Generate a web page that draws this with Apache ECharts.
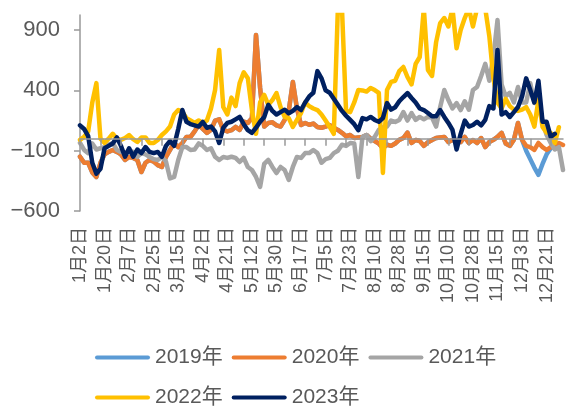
<!DOCTYPE html>
<html>
<head>
<meta charset="utf-8">
<script src="https://cdn.jsdelivr.net/npm/echarts@6/dist/echarts.min.js"></script>
<style>
html, body { margin: 0; padding: 0; background: #fff; }
#chart { width: 567px; height: 407px; }
</style>
</head>
<body>
<div id="chart"></div>
<script>
// 横轴标签（每18个交易日一个）
const dateLabels = ['1月2日', '1月20日', '2月7日', '2月25日', '3月15日', '4月2日', '4月21日',
    '5月12日', '5月30日', '6月17日', '7月5日', '7月23日', '8月10日', '8月28日', '9月15日',
    '10月10日', '10月28日', '11月15日', '12月3日', '12月21日'];
const labelStep = 18;   // 标签间隔（天）
const tickStep = 15;    // 刻度间隔（天）
const dayStep = 3;      // 取点间隔（天）
const lastDay = 354;

const yTicks = [-600, -100, 400, 900];

// 各年份数据（每3天取一点）
const y2019 = [
    -150, -200, -200, -280, -318, -200, -130, -110, -94, -110,
    -130, -177, -152, -160, -177, -277, -200, -177, -190, -220,
    -235, -152, -94, -36, -70, -36, 14, 14, 60, 113,
    80, 48, 72, 150, 160, 72, 60, 70, 97, 72,
    140, 130, 170, 860, 420, 100, 130, 135, 110, 100,
    155, 230, 470, 250, 113, 130, 115, 125, 97, 90,
    100, 113, 90, 72, 48, 20, 30, 5, 10, 14,
    30, 0, -20, -40, -80, -50, -60, -40, -10, 5,
    50, -36, -11, -20, -60, -30, -11, 5, 10, 14,
    -28, -11, -20, -28, 14, -36, -11, -36, 5, -70,
    -28, -10, 14, 48, -40, -60, -10, 130, -10, -100,
    -170, -240, -300, -210, -130, -80, -60, null, null
];
const y2020 = [
    -150, -200, -200, -280, -318, -200, -130, -110, -94, -110,
    -130, -177, -152, -160, -177, -277, -200, -177, -190, -220,
    -235, -152, -94, -36, -70, -36, 14, 14, 60, 113,
    80, 48, 72, 150, 160, 72, 60, 70, 97, 72,
    140, 130, 170, 860, 420, 100, 130, 135, 110, 100,
    155, 230, 470, 250, 113, 130, 115, 125, 97, 90,
    100, 113, 90, 72, 48, 20, 30, 5, 10, 14,
    30, 0, -20, -40, -80, -50, -60, -40, -10, 5,
    50, -36, -11, -20, -60, -30, -11, 5, 10, 14,
    -28, -11, -20, -28, 14, -36, -11, -36, 5, -70,
    -28, -10, 14, 48, -40, -60, -10, 130, -10, -60,
    -70, -94, -36, -70, -94, -70, -55, -36, -53
];
const y2021 = [
    -36, -94, -120, -40, -90, -80, -70, -50, -36, -94,
    -110, -120, -100, -110, -152, -120, -130, -152, -170, -177,
    -152, -190, -330, -318, -177, -70, -70, -94, -90, -40,
    -60, -94, -80, -150, -177, -152, -160, -150, -160, -194,
    -160, -235, -260, -318, -400, -210, -177, -235, -285, -235,
    -260, -343, -235, -152, -160, -120, -120, -94, -120, -200,
    -170, -160, -120, -100, -50, -60, -36, -40, -318, 14,
    30, -20, 14, 72, 95, 100, 150, 138, 155, 220,
    150, 212, 155, 180, 160, 180, 175, 100, 262, 403,
    320, 250, 295, 237, 310, 240, 403, 428, 520, 620,
    480, 677, 983, 450, 350, 380, 300, 428, 300, 300,
    460, 295, 350, 140, 30, -36, -90, -70, -260
];
const y2022 = [
    -10, 14, 60, 300, 460, 0, -36, 0, 40, 0,
    -10, 5, 30, -5, -28, 10, 10, -36, -36, -11,
    30, 60, 100, 200, 237, 220, 170, 150, 130, 150,
    130, 150, 250, 403, 735, 262, 200, 340, 270, 460,
    550, 500, 237, 40, 300, 362, 280, 320, 378, 262,
    180, 170, 97, 155, 212, 300, 270, 250, 237, 200,
    150, 97, 40, 1080, 1080, 230, 220, 300, 403, 400,
    390, 420, 403, 380, -285, 403, 470, 480, 560, 594,
    511, 450, 620, 677, 1080, 570, 520, 800, 958, 1000,
    930, 1080, 750, 900, 1000, 1080, 930, 1080, 1080, 1080,
    850, 500, 300, 250, 330, 270, 240, 230, 240, 262,
    200, 100, 320, 97, 50, 48, -36, 95, null
];
const y2023 = [
    110, 80, 20, -200, -290, -250, -80, -60, -40, 10,
    -60, -150, -80, -150, -90, -120, -70, -110, -120, -110,
    -150, -60, -20, -60, 80, 237, 140, 120, 110, 100,
    138, 90, 100, 60, -36, 90, 130, 140, 160, 180,
    120, 70, 48, 90, 140, 180, 280, 230, 200, 220,
    240, 210, 230, 262, 237, 300, 350, 380, 560, 500,
    400, 380, 330, 280, 230, 190, 155, 120, 70, 170,
    160, 180, 155, 140, 170, 295, 240, 260, 310, 345,
    378, 337, 300, 250, 237, 212, 185, 185, 237, 180,
    130, 72, -90, 40, 150, 100, 113, 140, 110, 155,
    270, 250, 735, 200, 220, 180, 220, 262, 350, 500,
    403, 300, 480, 140, 140, 15, 40, null, null
];

const seriesNames = ['2019年', '2020年', '2021年', '2022年', '2023年'];
const seriesData = [y2019, y2020, y2021, y2022, y2023];
const colors = ['#5B9BD5', '#ED7D31', '#A5A5A5', '#FFC000', '#002060'];

const fontFamily = '"Liberation Sans", "Noto Sans CJK SC", sans-serif';
const textColor = '#595959';
const axisColor = '#999999';

function toPoints(vals) {
    const out = [];
    vals.forEach((v, i) => { if (v !== null) out.push([i * dayStep, v]); });
    return out;
}

const labelDays = dateLabels.map((_, i) => i * labelStep);
const tickDays = [];
for (let d = 0; d <= lastDay; d += tickStep) tickDays.push(d);

const chart = echarts.init(document.getElementById('chart'), null, { renderer: 'canvas' });
chart.setOption({
    animation: false,
    backgroundColor: '#fff',
    color: colors,
    grid: { left: 80, right: 4, top: 15, bottom: 196, containLabel: false },
    legend: {
        data: seriesNames,
        left: 95,
        top: 342,
        width: 420,
        padding: 0,
        itemWidth: 55,
        itemHeight: 5,
        itemGap: 9,
        icon: 'path://M2,0 H53 A2,2 0 0 1 53,4 H2 A2,2 0 0 1 2,0 Z',
        textStyle: { fontSize: 21, color: textColor, fontFamily: fontFamily, lineHeight: 31 }
    },
    xAxis: [{
        // 零轴（横线与刻度）
        type: 'value',
        min: 0,
        max: lastDay,
        position: 'bottom',
        z: 10,
        axisLine: { show: true, onZero: true, lineStyle: { color: axisColor, width: 1.5 } },
        axisTick: { show: true, length: 7, customValues: tickDays, lineStyle: { color: axisColor, width: 1.5 } },
        axisLabel: { show: false },
        splitLine: { show: false }
    }, {
        // 底部日期标签
        type: 'value',
        min: 0,
        max: lastDay,
        position: 'bottom',
        axisLine: { show: false, onZero: false },
        axisTick: { show: false },
        splitLine: { show: false },
        axisLabel: {
            show: true,
            rotate: 90,
            margin: 16,
            customValues: labelDays,
            formatter: v => dateLabels[Math.round(v / labelStep)],
            fontSize: 18,
            color: textColor,
            fontFamily: fontFamily
        }
    }],
    yAxis: {
        type: 'value',
        min: -600,
        max: 1025,
        axisLine: { show: true, onZero: false, lineStyle: { color: axisColor, width: 1.5 } },
        axisTick: { show: true, length: 6, customValues: yTicks, lineStyle: { color: axisColor, width: 1.5 } },
        axisLabel: {
            customValues: yTicks,
            margin: 20,
            formatter: v => String(v).replace('-', '\u2212'),
            fontSize: 22,
            color: textColor,
            fontFamily: fontFamily
        },
        splitLine: { show: false }
    },
    series: seriesNames.map((name, i) => ({
        name: name,
        type: 'line',
        xAxisIndex: 0,
        data: toPoints(seriesData[i]),
        showSymbol: false,
        symbol: 'none',
        clip: true,
        lineStyle: { width: 4.5, color: colors[i], join: 'round', cap: 'round' },
        itemStyle: { color: colors[i] }
    }))
});
</script>
</body>
</html>
